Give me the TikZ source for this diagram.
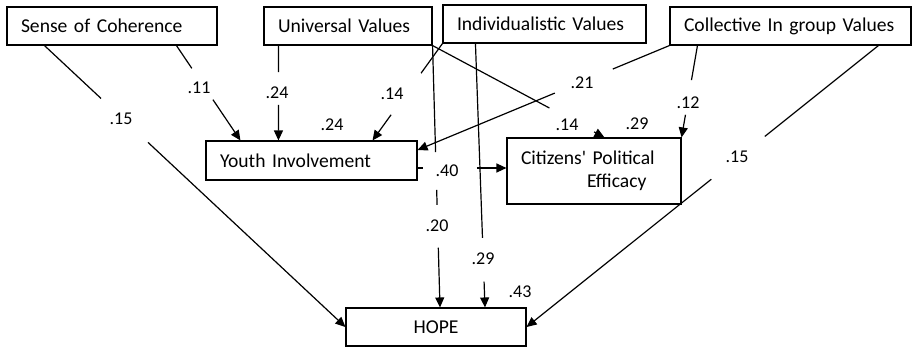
\documentclass[tikz,border=0pt]{standalone}
\usepackage{fontspec}
\setmainfont{Carlito}
\usetikzlibrary{arrows.meta,calc}
\begin{document}
\begin{tikzpicture}[x=1pt,y=-1pt,
  box/.style={draw,line width=1.1pt,rectangle,inner xsep=14pt,inner ysep=0pt,
    minimum height=38pt,align=left,font=\fontsize{19.6}{23}\selectfont},
  lab/.style={font=\fontsize{18}{20}\selectfont,inner sep=0pt},
  con/.style={line width=1.2pt},
  arr/.style={con,-{Triangle[length=10pt,width=9pt]}}]
\useasboundingbox (0,0) rectangle (912,347);
% boxes
\node[box,text width=182pt] (soc) at (112,26) {Sense of Coherence};
\node[box,text width=140pt] (uv) at (348,26) {Universal Values};
\node[box,text width=175pt] (iv) at (544.5,24) {Individualistic Values};
\node[box,text width=213pt] (civ) at (790.5,26) {Collective In group Values};
\node[box,text width=183pt,minimum height=39pt] (yi) at (311.5,160.5) {Youth Involvement};
\node[box,text width=146pt,minimum height=66pt] (cpe) at (594,171) {Citizens\textquotesingle\ Political\\\hspace*{66pt}Efficacy};
\node[box,text width=152pt,align=center] (hope) at (436,327) {HOPE};
% anchor points
\coordinate (a1) at ([xshift=38pt]soc.south west);
\coordinate (a2) at ([xshift=170pt]soc.south west);
\coordinate (b2) at ([xshift=35pt]yi.north west);
\coordinate (a3) at ([xshift=15pt]uv.south west);
\coordinate (b3) at ([xshift=73pt]yi.north west);
\coordinate (b4) at ([xshift=-45pt]yi.north east);
\coordinate (b5) at ([yshift=10.5pt]yi.east);
\coordinate (b6) at ([xshift=98pt]cpe.north west);
\coordinate (a7) at ([yshift=-7.5pt]yi.east);
\coordinate (b7) at ([yshift=3pt]cpe.west);
\coordinate (b8) at ([xshift=4pt]hope.north);
\coordinate (a9) at ([xshift=33pt]iv.south west);
\coordinate (b9) at ([xshift=49pt]hope.north);
\coordinate (a10) at ([xshift=28pt]civ.south west);
\coordinate (a11) at ([xshift=209pt]civ.south west);
% 1 SoC -> HOPE
\draw[con] (a1) -- ($(a1)!0.188!(hope.west)$);
\draw[arr] ($(a1)!0.344!(hope.west)$) -- (hope.west);
\node[lab] (l1) at (121,119) {.15};
% 2 SoC -> YI
\draw[con] (a2) -- ($(a2)!0.24!(b2)$);
\draw[arr] ($(a2)!0.57!(b2)$) -- (b2);
\node[lab] (l2) at (199,88) {.11};
% 3 UV -> YI
\draw[con] (a3) -- ($(a3)!0.28!(b3)$);
\draw[arr] ($(a3)!0.625!(b3)$) -- (b3);
\node[lab] (l3) at (277,93) {.24};
% 4 IV -> YI
\draw[con] (iv.south west) -- ($(iv.south west)!0.306!(b4)$);
\draw[arr] ($(iv.south west)!0.735!(b4)$) -- (b4);
\node[lab] (l4) at (392,94) {.14};
% 5 CIV -> YI
\draw[con] (civ.south west) -- ($(civ.south west)!0.225!(b5)$);
\draw[arr] ($(civ.south west)!0.455!(b5)$) -- (b5);
\node[lab] (l5) at (582,83) {.21};
% 6 UV -> CPE
\draw[con] (uv.south east) -- ($(uv.south east)!0.68!(b6)$);
\draw[arr] ($(uv.south east)!0.94!(b6)$) -- (b6);
\node[lab] (l6) at (567,125) {.14};
% 7 YI -> CPE
\draw[con] (a7) -- ($(a7)!0.056!(b7)$);
\draw[arr] ($(a7)!0.667!(b7)$) -- (b7);
\node[lab] (l7) at (447,171) {.40};
% 8 UV -> HOPE
\draw[con] (uv.south east) -- ($(uv.south east)!0.407!(b8)$);
\draw[con] ($(uv.south east)!0.551!(b8)$) -- ($(uv.south east)!0.608!(b8)$);
\draw[arr] ($(uv.south east)!0.772!(b8)$) -- (b8);
\node[lab] (l8) at (437,226) {.20};
% 9 IV -> HOPE
\draw[con] (a9) -- ($(a9)!0.736!(b9)$);
\draw[arr] ($(a9)!0.902!(b9)$) -- (b9);
\node[lab] (l9) at (483,259) {.29};
% 10 CIV -> CPE
\draw[con] (a10) -- ($(a10)!0.376!(cpe.north east)$);
\draw[arr] ($(a10)!0.753!(cpe.north east)$) -- (cpe.north east);
\node[lab] (l10) at (688,103) {.12};
% 11 CIV -> HOPE
\draw[con] (a11) -- ($(a11)!0.323!(hope.east)$);
\draw[arr] ($(a11)!0.475!(hope.east)$) -- (hope.east);
\node[lab] (l11) at (737,157) {.15};
% R squared
\node[lab] (r1) at (332,125) {.24};
\node[lab] (r2) at (637,124) {.29};
\node[lab] (r3) at (520,292) {.43};
\end{tikzpicture}
\end{document}
